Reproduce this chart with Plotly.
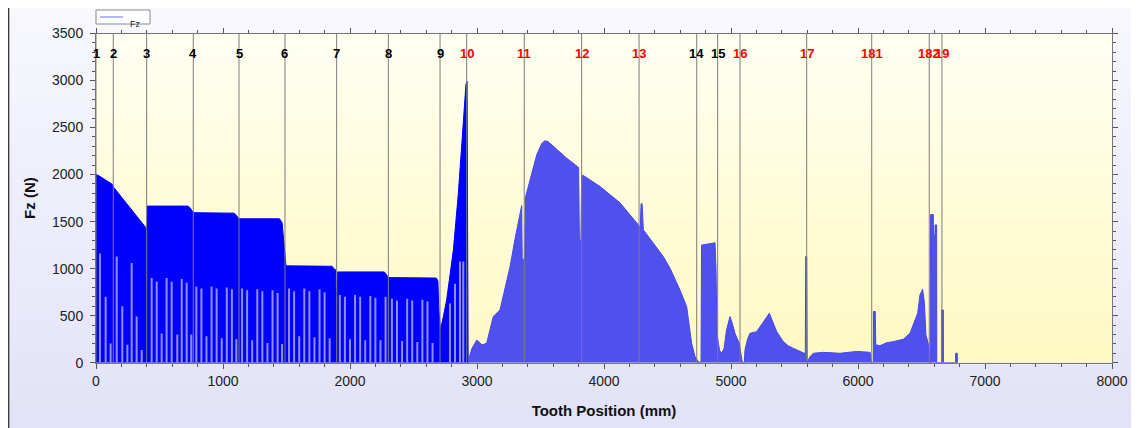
import plotly.graph_objects as go

# tooth markers: position (mm), label, label colour
MARKER_POS = [0, 136, 399, 766, 1126, 1488, 1895, 2302, 2709, 2919,
              3372, 3824, 4276, 4730, 4895, 5071, 5596, 6108, 6561, 6661]
MARKER_TEXT = ["1", "2", "3", "4", "5", "6", "7", "8", "9", "10",
               "11", "12", "13", "14", "15", "16", "17", "181", "182", "19"]
MARKER_COLOR = ["black"] * 9 + ["red"] * 4 + ["black"] * 2 + ["red"] * 5

# envelope of Fz, first part (dense dark trace, teeth 1-10)
DARK_X = [0, 0, 20, 130, 136, 386, 399, 404, 725, 745, 766, 1090, 1108, 1126,
          1445, 1465, 1478, 1496, 1860, 1872, 1885, 1893, 1900, 2270, 2288,
          2302, 2680, 2692, 2700, 2712, 2735, 2761, 2814, 2853, 2892, 2913,
          2922, 2930]
DARK_Y = [0, 2000, 1990, 1895, 1870, 1440, 1425, 1665, 1665, 1640, 1595, 1590,
          1560, 1530, 1530, 1490, 1300, 1030, 1025, 1000, 990, 650, 965, 965,
          935, 905, 900, 870, 560, 348, 490, 667, 1200, 1800, 2550, 2960,
          2990, 0]

# envelope of Fz, second part (teeth 10-19)
MID_X = [2932, 2940, 2960, 2998, 3020, 3040, 3076, 3100, 3128, 3181, 3220,
         3260, 3300, 3339, 3352, 3356, 3376, 3382, 3430, 3470, 3510, 3535,
         3560, 3628, 3706, 3800, 3806, 3818, 3824, 3837, 3969, 4126, 4252,
         4268, 4285, 4292, 4300, 4310, 4389, 4467, 4520, 4598, 4651, 4690,
         4717, 4740, 4760, 4764, 4768, 4874, 4882, 4890, 4910, 4926, 4945,
         4965, 4992, 5010, 5031, 5050, 5065, 5080, 5090, 5105, 5110, 5130,
         5150, 5202, 5254, 5302, 5330, 5360, 5412, 5450, 5490, 5569, 5585,
         5588, 5596, 5600, 5620, 5648, 5727, 5858, 5990, 6095, 6105, 6121,
         6122, 6136, 6140, 6173, 6226, 6278, 6357, 6409, 6449, 6470, 6488,
         6509, 6522, 6535, 6554, 6568, 6572, 6593, 6594, 6606, 6607, 6619,
         6620, 6658, 6659, 6672, 6673, 6768, 6769, 6782, 6783]
MID_Y = [0, 60, 150, 240, 215, 190, 206, 330, 490, 560, 780,
         1020, 1320, 1610, 1670, 1100, 1100, 1760, 2015, 2210, 2330, 2360,
         2350, 2265, 2175, 2075, 1300, 1300, 1995, 1990, 1873, 1700, 1500,
         1470, 1430, 1690, 1690, 1412, 1270, 1128, 1004, 774, 596, 206,
         64, 15, 0, 0, 1250, 1275, 1000, 300, 130, 100, 150,
         348, 490, 420, 313, 250, 206, 80, 0, 0, 135, 250,
         313, 330, 436, 525, 430, 330, 224, 180, 153, 100, 95,
         1128, 1128, 0, 60, 100, 110, 100, 120, 110, 0, 0,
         545, 545, 190, 181, 213, 224, 249, 313, 454, 525, 720,
         781, 649, 295, 199, 0, 1575, 1575, 1360, 1360, 1465, 1465,
         0, 0, 560, 560, 0, 0, 100, 100, 0]

# low points between teeth in the first part (light stripes)
STRIPE_X = [31, 76, 115, 163, 207, 247, 281, 320, 360,
            438, 478, 517, 556, 596, 640, 675, 714, 750,
            790, 830, 870, 910, 950, 990, 1030, 1070, 1105,
            1150, 1190, 1230, 1270, 1310, 1350, 1390, 1430, 1465,
            1520, 1560, 1600, 1640, 1680, 1720, 1760, 1800, 1840,
            1920, 1960, 2000, 2040, 2080, 2120, 2160, 2200, 2240, 2280,
            2330, 2370, 2410, 2450, 2490, 2530, 2570, 2610, 2650,
            2787, 2827, 2866, 2892]
STRIPE_H = [1160, 700, 205, 1130, 600, 190, 1060, 490, 135,
            900, 860, 310, 900, 860, 300, 890, 850, 300,
            810, 790, 280, 810, 790, 260, 800, 780, 250,
            790, 770, 240, 780, 760, 210, 770, 740, 200,
            790, 760, 280, 790, 760, 270, 780, 750, 260,
            720, 700, 250, 720, 700, 240, 710, 690, 240, 700,
            680, 660, 230, 680, 660, 220, 670, 650, 210,
            630, 840, 1075, 1075]

FONT = "Arial, Liberation Sans, sans-serif"
# the page body adds an 8 px margin, so the figure is 8 px smaller than the window
W, H = 1131, 420


def px(x):
    return (x - 8) / W


def py(y):
    return 1 - (y - 8) / H


fig = go.Figure()

# panel background (lavender gradient)
fig.add_trace(go.Scatter(
    x=[0, 1, 1, 0, 0], y=[0, 0, 1, 1, 0], mode="lines",
    fill="toself", line=dict(width=0),
    fillgradient=dict(type="vertical",
                      colorscale=[[0, "#E2E2F8"], [1, "#F8F8FE"]]),
    xaxis="x", yaxis="y", hoverinfo="skip", showlegend=False))

# plot area background (yellow gradient)
fig.add_trace(go.Scatter(
    x=[0, 8000, 8000, 0, 0], y=[0, 0, 3500, 3500, 0], mode="lines",
    fill="toself", line=dict(width=0),
    fillgradient=dict(type="vertical",
                      colorscale=[[0, "#FFF9C2"], [1, "#FFFFF2"]]),
    xaxis="x2", yaxis="y2", hoverinfo="skip", showlegend=False))

fig.add_trace(go.Scatter(
    x=DARK_X, y=DARK_Y, mode="lines", fill="tozeroy",
    line=dict(color="#0000FF", width=1), fillcolor="#0000FF",
    xaxis="x2", yaxis="y2", showlegend=False))
fig.add_trace(go.Scatter(
    x=MID_X, y=MID_Y, mode="lines", fill="tozeroy",
    line=dict(color="#4646EC", width=1), fillcolor="#5050EE",
    xaxis="x2", yaxis="y2", showlegend=False))

# stripes as vertical segments from 0 to each low point
sx, sy = [], []
for x, h in zip(STRIPE_X, STRIPE_H):
    sx += [x, x, None]
    sy += [0, h, None]
fig.add_trace(go.Scatter(
    x=sx, y=sy, mode="lines", line=dict(color="#8E8EEE", width=2),
    xaxis="x2", yaxis="y2", hoverinfo="skip", showlegend=False))

for pos, txt, col in zip(MARKER_POS, MARKER_TEXT, MARKER_COLOR):
    fig.add_shape(type="line", xref="x2", yref="y2", x0=pos, x1=pos,
                  y0=0, y1=3500, line=dict(color="#7C7C7C", width=1),
                  layer="above")
    fig.add_annotation(x=pos, y=3285, xref="x2", yref="y2", text=f"<b>{txt}</b>",
                       showarrow=False, font=dict(family=FONT, size=13, color=col))

# window border on the left
fig.add_shape(type="line", xref="paper", yref="paper", x0=0.6 / W, x1=0.6 / W,
              y0=0, y1=1, line=dict(color="#3A3A3A", width=1.5))

# small legend box: Fz
fig.add_shape(type="rect", xref="paper", yref="paper",
              x0=px(96), x1=px(150), y0=py(24), y1=py(10),
              fillcolor="white", line=dict(color="#8A8A8A", width=1))
fig.add_shape(type="line", xref="paper", yref="paper",
              x0=px(100), x1=px(123), y0=py(17), y1=py(17),
              line=dict(color="#6A6AFF", width=1))
fig.add_annotation(x=px(128), y=py(17), xref="paper", yref="paper",
                   text="Fz", showarrow=False, xanchor="left",
                   font=dict(family=FONT, size=9, color="#222222"))

axis_common = dict(
    showline=True, linecolor="#777777", linewidth=1, mirror="allticks",
    ticks="outside", ticklen=5, tickcolor="#555555",
    showgrid=True, gridcolor="#999999", griddash="dot", gridwidth=1,
    zeroline=False, layer="above traces", automargin=False,
    tickfont=dict(family=FONT, size=14, color="#222222"),
)

fig.update_layout(
    width=W, height=H,
    margin=dict(l=0, r=0, t=0, b=0, autoexpand=False),
    paper_bgcolor="white", plot_bgcolor="rgba(0,0,0,0)",
    xaxis=dict(domain=[0, 1], range=[0, 1], visible=False),
    yaxis=dict(domain=[0, 1], range=[0, 1], visible=False),
    xaxis2=dict(domain=[px(96), px(1112)], anchor="y2", range=[0, 8000],
                tick0=0, dtick=1000,
                minor=dict(dtick=200, ticks="outside", ticklen=3,
                           tickcolor="#555555", showgrid=False),
                title=dict(text="<b>Tooth Position (mm)</b>", standoff=17,
                           font=dict(family=FONT, size=15, color="#111111")),
                **axis_common),
    yaxis2=dict(domain=[py(362.7), py(33.5)], anchor="x2",
                range=[0, 3500], tick0=0, dtick=500, ticklabelstandoff=4,
                minor=dict(dtick=100, ticks="outside", ticklen=3,
                           tickcolor="#555555", showgrid=False),
                title=dict(text="<b>Fz (N)</b>", standoff=12,
                           font=dict(family=FONT, size=15, color="#111111")),
                **axis_common),
    showlegend=False,
)

fig.write_html("out.html")
